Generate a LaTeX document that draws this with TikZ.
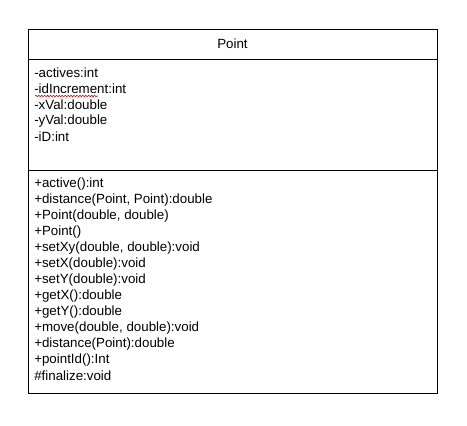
\documentclass[tikz,border=0pt]{standalone}
\usepackage{fontspec}
\setmainfont{Liberation Sans}
\usetikzlibrary{calc}
\usetikzlibrary{decorations.pathmorphing}

\begin{document}
\begin{tikzpicture}[x=0.75pt,y=-0.75pt,
    member/.style={anchor=west,inner sep=0pt,font=\fontsize{10}{12}\selectfont}]
    \path[use as bounding box] (0,0) rectangle (467,425);
    % Class box.
    \draw[line width=0.75pt] (28,29) rectangle (437,393);
    \draw[line width=0.75pt] (28,59) -- (437,59);
    \draw[line width=0.75pt] (28,170) -- (437,170);
    % Class name.
    \node[member,anchor=center] (name) at (232.5,44) {Point};
    % Attributes.
    \foreach \t [count=\i] in {-actives:int,-idIncrement:int,-xVal:double,-yVal:double,-iD:int}
      \node[member] (attr\i) at (34,{57+16*\i}) {\t};
    % Spell-check mark.
    \draw[red!85!black,line width=0.4pt,decorate,decoration={snake,amplitude=0.6pt,segment length=2.2pt}]
      ($ (attr2.west) + (1,7) $) -- ($ (attr2.west) + (64,7) $);
    % Operations.
    \foreach \t [count=\i] in {{+active():int},{+distance(Point, Point):double},{+Point(double, double)},
        {+Point()},{+setXy(double, double):void},{+setX(double):void},{+setY(double):void},
        {+getX():double},{+getY():double},{+move(double, double):void},{+distance(Point):double},
        {+pointId():Int},{\#finalize:void}}
      \node[member] (op\i) at (34,{168+16*\i}) {\t};
\end{tikzpicture}
\end{document}
